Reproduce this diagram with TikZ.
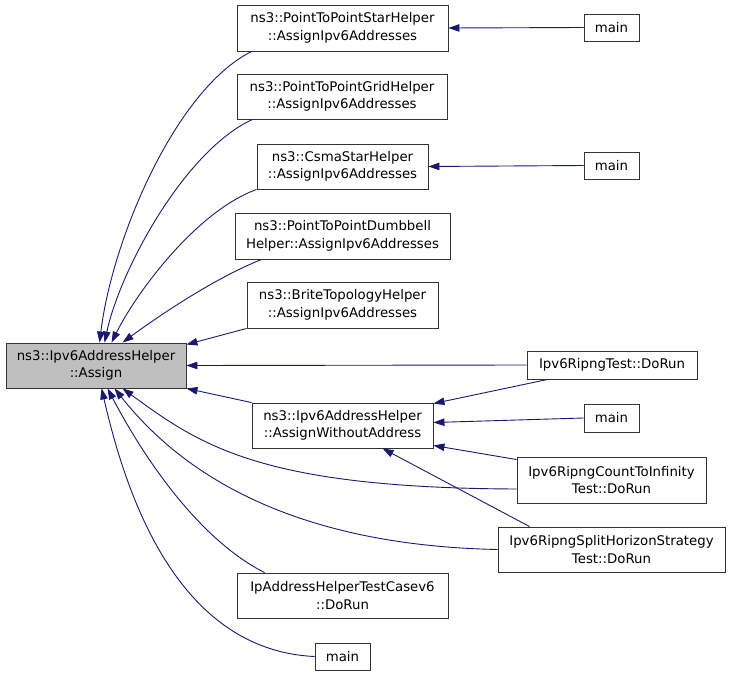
\documentclass[tikz,border=0pt]{standalone}
\usepackage{fontspec}
\setmainfont{DejaVu Sans}
\usetikzlibrary{arrows.meta}
\definecolor{edgeblue}{RGB}{25,25,112}
\definecolor{hlgray}{RGB}{191,191,191}
\begin{document}
\begin{tikzpicture}[x=1pt,y=-1pt,
  box/.style={draw=black!80, line width=0.9pt, inner sep=0pt, align=center,
    font=\fontsize{13.3}{17.5}\selectfont},
  two/.style={box, minimum height=45pt},
  one/.style={box, minimum height=27pt},
  edge/.style={draw=edgeblue, line width=0.9pt, {Triangle[length=11pt,width=7.5pt]}-}]
\useasboundingbox[fill=white] (0,0) rectangle (731,677);
% nodes
\node[two, fill=hlgray, minimum width=180pt] (assign) at (96,365.5) {ns3::Ipv6AddressHelper\\::Assign};
\node[two, minimum width=211pt, minimum height=46pt] (star) at (342.5,28) {ns3::PointToPointStarHelper\\::AssignIpv6Addresses};
\node[one, minimum width=55pt] (mainA) at (611.5,27.5) {main};
\node[two, minimum width=210pt] (grid) at (342,96.5) {ns3::PointToPointGridHelper\\::AssignIpv6Addresses};
\node[two, minimum width=171pt] (csma) at (342.5,166.5) {ns3::CsmaStarHelper\\::AssignIpv6Addresses};
\node[one, minimum width=55pt] (mainB) at (611.5,165.5) {main};
\node[two, minimum width=215pt, minimum height=46pt] (dumb) at (342.5,236) {ns3::PointToPointDumbbell\\Helper::AssignIpv6Addresses};
\node[two, minimum width=191pt, minimum height=46pt] (brite) at (342.5,305) {ns3::BriteTopologyHelper\\::AssignIpv6Addresses};
\node[one, minimum width=170pt, minimum height=28pt] (rtest) at (612,365) {Ipv6RipngTest::DoRun};
\node[two, minimum width=181pt] (without) at (342.5,425.5) {ns3::Ipv6AddressHelper\\::AssignWithoutAddress};
\node[one, minimum width=55pt, minimum height=28pt] (mainC) at (611.5,418) {main};
\node[two, minimum width=189pt, minimum height=46pt] (cti) at (611.5,480) {Ipv6RipngCountToInfinity\\Test::DoRun};
\node[two, minimum width=227pt] (split) at (611.5,549.5) {Ipv6RipngSplitHorizonStrategy\\Test::DoRun};
\node[two, minimum width=211pt] (ipaddr) at (342.5,595.5) {IpAddressHelperTestCasev6\\::DoRun};
\node[one, minimum width=55pt] (mainD) at (342.5,656.5) {main};
% edges into assign (top)
\draw[edge] ([xshift=94pt]assign.north west) .. controls (112,240) and (175,90) .. ([xshift=15pt]star.south west);
\draw[edge] ([xshift=99pt]assign.north west) .. controls (120,270) and (185,150) .. ([xshift=16pt]grid.south west);
\draw[edge] ([xshift=106pt]assign.north west) .. controls (135,295) and (195,212) .. (csma.south west);
\draw[edge] ([xshift=117pt]assign.north west) .. controls (160,315) and (215,278) .. ([xshift=27pt]dumb.south west);
\draw[edge] ([yshift=-2pt]assign.north east) -- (brite.south west);
\draw[edge] (assign.east) -- (rtest.west);
\draw[edge] (assign.south east) -- (without.north west);
% edges into assign (bottom)
\draw[edge] ([xshift=117pt]assign.south west) .. controls (200,445) and (260,488) .. ([yshift=-9pt]cti.west);
\draw[edge] ([xshift=109pt]assign.south west) .. controls (175,465) and (280,545) .. (split.west);
\draw[edge] ([xshift=102pt]assign.south west) .. controls (145,460) and (200,540) .. ([xshift=28pt]ipaddr.north west);
\draw[edge] ([xshift=96pt]assign.south west) .. controls (125,490) and (175,650) .. (mainD.west);
% other edges
\draw[edge] (star.east) -- (mainA.west);
\draw[edge] (csma.east) -- (mainB.west);
\draw[edge] ([yshift=-1pt]without.north east) -- ([xshift=21pt]rtest.south west);
\draw[edge] ([yshift=3pt]without.east) -- (mainC.west);
\draw[edge] ([yshift=3pt]without.south east) -- ([yshift=-3pt]cti.north west);
\draw[edge] ([xshift=131pt]without.south west) -- ([xshift=32pt]split.north west);
\end{tikzpicture}
\end{document}
